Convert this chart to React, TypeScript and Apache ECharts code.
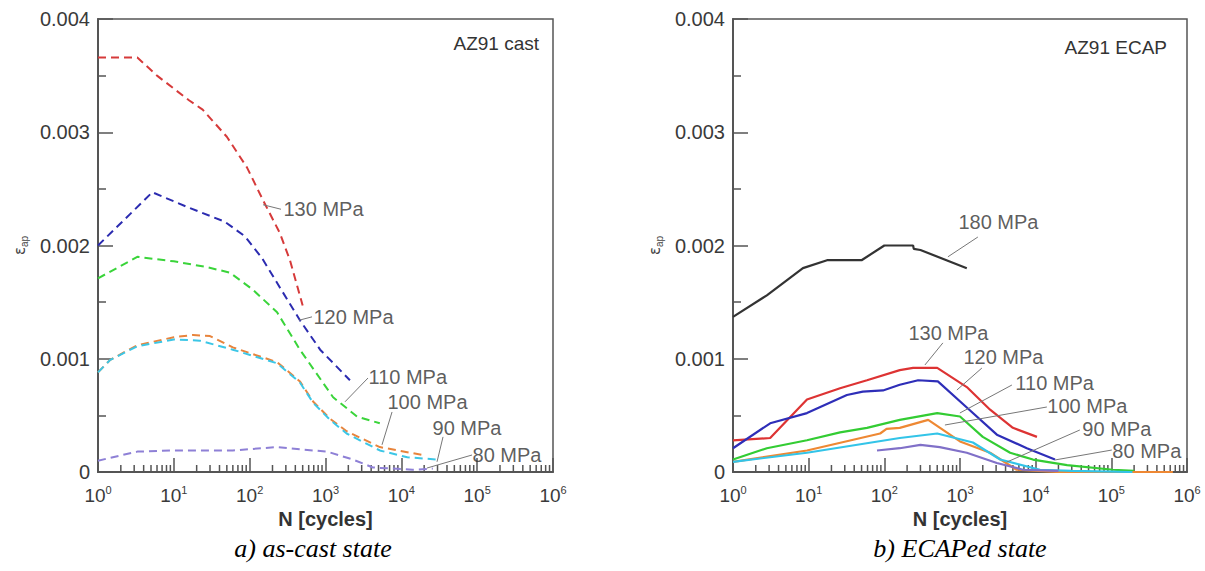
import React, { useEffect, useRef } from "react";
import * as echarts from "echarts";

// ---------- data (N [cycles], strain amplitude) ----------
const CAST_130 = [[1, 0.00366], [3.3, 0.00366], [6, 0.0035], [16, 0.00328], [24, 0.0032], [50, 0.00296], [92, 0.00269], [150, 0.0024], [250, 0.00211], [340, 0.00187], [500, 0.00147]];
const CAST_120 = [[1, 0.002], [5.2, 0.00247], [15, 0.00234], [47, 0.00221], [87, 0.00208], [145, 0.00189], [250, 0.00163], [460, 0.00134], [850, 0.00108], [2100, 0.00081]];
const CAST_110 = [[1, 0.00171], [3.3, 0.0019], [10, 0.00186], [27, 0.00181], [55, 0.00176], [110, 0.00161], [230, 0.00141], [460, 0.00108], [1260, 0.00066], [2600, 0.00049], [5200, 0.00043]];
const CAST_100 = [[1, 0.00088], [1.45, 0.00099], [3.3, 0.00112], [10, 0.00119], [18, 0.00121], [30, 0.0012], [60, 0.0011], [230, 0.00097], [460, 0.0008], [690, 0.00062], [1150, 0.00047], [1900, 0.00036], [5200, 0.00022], [19000, 0.00015]];
const CAST_90 = [[1, 0.00088], [1.45, 0.00099], [3.3, 0.00111], [10, 0.00117], [22, 0.00116], [60, 0.00108], [230, 0.00096], [460, 0.00079], [690, 0.00061], [1150, 0.00046], [1900, 0.00034], [5200, 0.00019], [12000, 0.00013], [30000, 0.00011]];
const CAST_80 = [[1, 0.0001], [3.3, 0.00018], [10, 0.00019], [60, 0.00019], [230, 0.00022], [460, 0.0002], [1050, 0.00018], [2300, 0.00011], [4200, 0.00004], [14000, 0.00002], [26000, 0.00003]];

const ECAP_180 = [[1, 0.00137], [2.8, 0.00156], [8.4, 0.0018], [17.5, 0.00187], [50, 0.00187], [100, 0.002], [240, 0.002], [245, 0.00197], [300, 0.00196], [1230, 0.0018]];
const ECAP_130 = [[1, 0.00028], [3.1, 0.0003], [9.5, 0.00064], [26, 0.00074], [59, 0.00081], [160, 0.0009], [240, 0.00092], [500, 0.00092], [1230, 0.00075], [2500, 0.00055], [5000, 0.00039], [10400, 0.00031]];
const ECAP_120 = [[1, 0.00021], [3.1, 0.00043], [9.5, 0.00052], [32, 0.00068], [52, 0.00071], [96, 0.00072], [160, 0.00077], [280, 0.00081], [510, 0.0008], [1230, 0.00057], [3070, 0.00033], [7650, 0.00021], [18000, 0.00011]];
const ECAP_110 = [[1, 0.00011], [2.8, 0.00021], [9.5, 0.00028], [26, 0.00035], [59, 0.00039], [160, 0.00046], [500, 0.00052], [1000, 0.00049], [2000, 0.00031], [4600, 0.00017], [9200, 0.00011], [26000, 0.00006], [105000, 0.00002], [200000, 0.00001]];
const ECAP_100 = [[1, 0.00009], [9.5, 0.00019], [88, 0.00034], [107, 0.00038], [160, 0.00039], [380, 0.00046], [1000, 0.00027], [2500, 0.00017], [5600, 0.00002], [20000, 0], [650000, 0]];
const ECAP_90 = [[1, 0.00009], [9.5, 0.00017], [160, 0.0003], [500, 0.00034], [1480, 0.00026], [3400, 0.00011], [11400, 0.00002], [30000, 0.00001], [190000, 0]];
const ECAP_80 = [[80, 0.00019], [160, 0.00021], [300, 0.00024], [540, 0.00022], [1230, 0.00017], [3070, 0.00008], [6800, 0.00002], [20000, 0.00001]];

// annotations: label text, leader line (data coords), text anchor (data coords)
const CAST_NOTES = [
  { text: "130 MPa", leader: [[150, 0.00236], [259, 0.00232]], at: [275, 0.00232] },
  { text: "120 MPa", leader: [[448, 0.00134], [664, 0.00137]], at: [684, 0.00137] },
  { text: "110 MPa", leader: [[1808, 0.00062], [3636, 0.00083]], at: [3636, 0.00084] },
  { text: "100 MPa", leader: [[5560, 0.00024], [7540, 0.00053]], at: [6470, 0.00062] },
  { text: "90 MPa", leader: [[29560, 0.00009], [35470, 0.00031]], at: [25400, 0.00039] },
  { text: "80 MPa", leader: [[21800, 0.000035], [85500, 0.00015]], at: [85500, 0.00015] },
];
const ECAP_NOTES = [
  { text: "180 MPa", leader: [[692, 0.0019], [1723, 0.002075]], at: [938, 0.00221] },
  { text: "130 MPa", leader: [[344, 0.000945], [594, 0.00114]], at: [205, 0.00123] },
  { text: "120 MPa", leader: [[910, 0.000724], [1946, 0.000918]], at: [1092, 0.001015] },
  { text: "110 MPa", leader: [[997, 0.000521], [4850, 0.000768]], at: [5310, 0.000786] },
  { text: "100 MPa", leader: [[632, 0.000415], [14060, 0.000574]], at: [14060, 0.000583] },
  { text: "90 MPa", leader: [[4165, 0.000088], [38370, 0.000371]], at: [40740, 0.00038] },
  { text: "80 MPa", leader: [[17930, 0.000106], [101600, 0.000194]], at: [101600, 0.000185] },
];

const PANEL_TITLES = ["AZ91 cast", "AZ91 ECAP"];
const CAPTIONS = ["a) as-cast state", "b) ECAPed state"];
const X_NAME = "N [cycles]";
const X_MIN = 1;
const X_MAX = 1e6;
const Y_MAX = 0.004;
const Y_STEP = 0.001;
const MINOR_MULTIPLIERS = [2, 3, 4, 5, 6, 7, 8, 9];
const DECADES = [1, 10, 100, 1000, 10000, 100000];

const FONT = "Liberation Sans";
const AXIS_COLOR = "#555";
const TEXT_COLOR = "#3a3a3a";

const CAST_SERIES = [
  { name: "130", data: CAST_130, color: "#d63a3a" },
  { name: "120", data: CAST_120, color: "#2b2bb0" },
  { name: "110", data: CAST_110, color: "#3ad43a" },
  { name: "100", data: CAST_100, color: "#e8843c" },
  { name: "90", data: CAST_90, color: "#3cc6e6" },
  { name: "80", data: CAST_80, color: "#8e80d6" },
];
const ECAP_SERIES = [
  { name: "180", data: ECAP_180, color: "#333333" },
  { name: "130", data: ECAP_130, color: "#dd3333" },
  { name: "120", data: ECAP_120, color: "#2e2eb8" },
  { name: "110", data: ECAP_110, color: "#33cc33" },
  { name: "100", data: ECAP_100, color: "#ee8833" },
  { name: "90", data: ECAP_90, color: "#33c4e8" },
  { name: "80", data: ECAP_80, color: "#8070c8" },
];

function buildOption() {
  const minorTicks: number[][] = [];
  DECADES.forEach((d) => MINOR_MULTIPLIERS.forEach((m) => minorTicks.push([m * d, 0])));

  const grids = [
    { left: 98, top: 19, width: 455, height: 453 },
    { left: 733, top: 19, width: 454, height: 453 },
  ].map((g) => ({ ...g, show: true, borderColor: AXIS_COLOR, borderWidth: 1.5, backgroundColor: "transparent" }));

  const xAxes = [0, 1].map((i) => ({
    type: "log",
    logBase: 10,
    gridIndex: i,
    min: X_MIN,
    max: X_MAX,
    splitNumber: 6,
    axisLine: { show: true, onZero: false, lineStyle: { color: AXIS_COLOR, width: 2 } },
    axisTick: { show: true, inside: true, length: 14, lineStyle: { color: AXIS_COLOR, width: 1.5 } },
    splitLine: { show: false },
    axisLabel: {
      margin: 12,
      formatter: (v: number) => `{b|10}{s|${Math.round(Math.log10(v))}}`,
      rich: {
        b: { fontSize: 19, fontFamily: FONT, color: TEXT_COLOR, lineHeight: 22 },
        s: { fontSize: 11, fontFamily: FONT, color: TEXT_COLOR, verticalAlign: "top", lineHeight: 12 },
      },
    },
    name: X_NAME,
    nameLocation: "middle",
    nameGap: 37,
    nameTextStyle: { fontSize: 20, fontWeight: "bold", fontFamily: FONT, color: "#333" },
  }));

  const yAxes = [0, 1].map((i) => ({
    type: "value",
    gridIndex: i,
    min: 0,
    max: Y_MAX,
    interval: Y_STEP,
    axisLine: { show: true, onZero: false, lineStyle: { color: AXIS_COLOR, width: 2 } },
    axisTick: { show: true, inside: true, length: 15, lineStyle: { color: AXIS_COLOR, width: 1.5 } },
    minorTick: { show: true, splitNumber: 2, length: 8, lineStyle: { color: AXIS_COLOR, width: 1.5 } },
    splitLine: { show: false },
    axisLabel: {
      margin: 8,
      fontSize: 20,
      fontFamily: FONT,
      color: TEXT_COLOR,
      formatter: (v: number) => (v === 0 ? "0" : v.toFixed(3)),
    },
    name: "{e|ε}{s|ap}",
    nameLocation: "middle",
    nameRotate: 90,
    nameGap: 69,
    nameTextStyle: {
      rich: {
        e: { fontSize: 15, fontFamily: "DejaVu Sans", color: "#444", lineHeight: 18 },
        s: { fontSize: 10, fontFamily: FONT, color: "#444", verticalAlign: "bottom", lineHeight: 10 },
      },
    },
  }));

  const series: any[] = [];
  const addPanel = (idx: number, list: any[], dashed: boolean, notes: any[]) => {
    list.forEach((s) => {
      series.push({
        type: "line",
        name: s.name + (idx === 0 ? " cast" : " ecap"),
        xAxisIndex: idx,
        yAxisIndex: idx,
        data: s.data,
        showSymbol: false,
        symbol: "none",
        lineStyle: { color: s.color, width: dashed ? 2 : 2.2, type: dashed ? [8, 5] : "solid" },
        z: 3,
      });
    });
    series.push({
      type: "custom",
      xAxisIndex: idx,
      yAxisIndex: idx,
      data: minorTicks,
      silent: true,
      z: 2,
      renderItem: (_p: any, api: any) => {
        const pt = api.coord([api.value(0), 0]);
        return {
          type: "line",
          shape: { x1: pt[0], y1: pt[1], x2: pt[0], y2: pt[1] - 7 },
          style: { stroke: AXIS_COLOR, lineWidth: 1.5 },
        };
      },
    });
    series.push({
      type: "lines",
      coordinateSystem: "cartesian2d",
      xAxisIndex: idx,
      yAxisIndex: idx,
      silent: true,
      z: 4,
      lineStyle: { color: "#777", width: 1, opacity: 1 },
      data: notes.map((n) => ({ coords: n.leader })),
    });
    series.push({
      type: "scatter",
      xAxisIndex: idx,
      yAxisIndex: idx,
      silent: true,
      symbolSize: 1,
      itemStyle: { color: "rgba(0,0,0,0)" },
      z: 5,
      label: {
        show: true,
        position: "right",
        distance: 0,
        fontSize: 20,
        fontFamily: FONT,
        color: "#333",
        formatter: (p: any) => p.data.text,
      },
      data: notes.map((n) => ({ value: n.at, text: n.text })),
    });
  };
  addPanel(0, CAST_SERIES, true, CAST_NOTES);
  addPanel(1, ECAP_SERIES, false, ECAP_NOTES);

  const graphic = [
    { type: "text", x: 539, y: 43, style: { text: PANEL_TITLES[0], font: `19px "${FONT}"`, fill: "#333", align: "right", verticalAlign: "middle" } },
    { type: "text", x: 1167, y: 47, style: { text: PANEL_TITLES[1], font: `19px "${FONT}"`, fill: "#333", align: "right", verticalAlign: "middle" } },
    { type: "text", x: 313, y: 548, style: { text: CAPTIONS[0], font: `italic 26px "Liberation Serif"`, fill: "#000", align: "center", verticalAlign: "middle" } },
    { type: "text", x: 960, y: 548, style: { text: CAPTIONS[1], font: `italic 26px "Liberation Serif"`, fill: "#000", align: "center", verticalAlign: "middle" } },
  ];

  return {
    animation: false,
    backgroundColor: "#fff",
    grid: grids,
    xAxis: xAxes,
    yAxis: yAxes,
    series,
    graphic,
  };
}

export default function App() {
  const ref = useRef<HTMLDivElement>(null);
  useEffect(() => {
    if (!ref.current) return;
    const chart = echarts.init(ref.current, null, { renderer: "svg" });
    chart.setOption(buildOption() as any);
    return () => chart.dispose();
  }, []);
  return <div ref={ref} style={{ position: "absolute", left: 0, top: 0, width: 1205, height: 571 }} />;
}
